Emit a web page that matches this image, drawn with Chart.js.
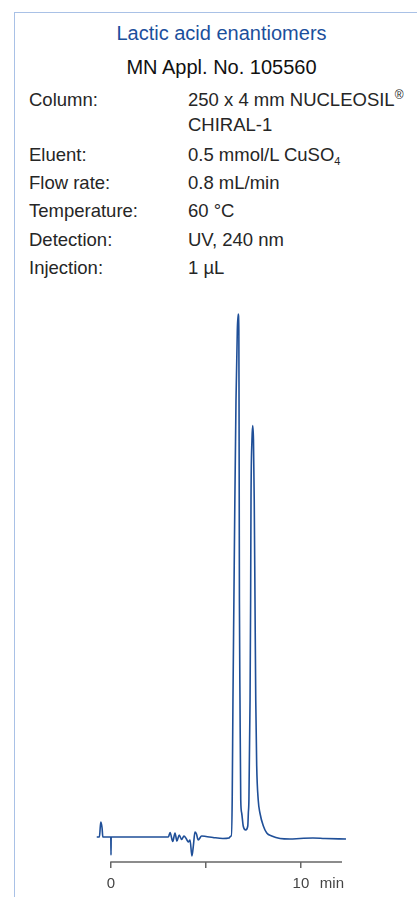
<!DOCTYPE html>
<html>
<head>
<meta charset="utf-8">
<script src="https://cdn.jsdelivr.net/npm/chart.js@4/dist/chart.umd.min.js"></script>
<style>
  html, body { margin: 0; padding: 0; background: #fff; }
  body { width: 417px; height: 897px; position: relative; overflow: hidden;
         font-family: "Liberation Sans", Arial, sans-serif; color: #262626; }
  .frame { position: absolute; left: 14px; top: 12px; width: 420px; height: 900px;
           border-left: 1.5px solid #a9c1e6; border-top: 1.5px solid #a9c1e6; }
  .t { position: absolute; white-space: nowrap; }
  .title { font-size: 20px; color: #1b4f9c; left: 0; width: 443px; text-align: center; }
  .appl  { font-size: 20px; color: #111; left: 0; width: 443px; text-align: center; }
  .lab, .val { font-size: 18.5px; line-height: 20px; }
  .lab { left: 29px; }
  .val { left: 188px; }
  sup { font-size: 12px; vertical-align: 7px; line-height: 0; }
  sub { font-size: 11px; vertical-align: -4px; line-height: 0; }
  #chart { position: absolute; left: 0; top: 290px; }
</style>
</head>
<body>
<div class="frame"></div>
<div class="t title" style="top:22px">Lactic acid enantiomers</div>
<div class="t appl" style="top:56px">MN Appl. No. 105560</div>

<div class="t lab" style="top:90px">Column:</div>
<div class="t val" style="top:90px">250 x 4 mm NUCLEOSIL<sup>®</sup></div>
<div class="t val" style="top:115px">CHIRAL-1</div>
<div class="t lab" style="top:145px">Eluent:</div>
<div class="t val" style="top:145px">0.5 mmol/L CuSO<sub>4</sub></div>
<div class="t lab" style="top:173px">Flow rate:</div>
<div class="t val" style="top:173px">0.8 mL/min</div>
<div class="t lab" style="top:201px">Temperature:</div>
<div class="t val" style="top:201px">60 °C</div>
<div class="t lab" style="top:230px">Detection:</div>
<div class="t val" style="top:230px">UV, 240 nm</div>
<div class="t lab" style="top:258px">Injection:</div>
<div class="t val" style="top:258px">1 µL</div>

<canvas id="chart" width="417" height="607"></canvas>

<script>
/* ─── DATA ─── retention time (min) and detector signal (arbitrary units) */
const TIME_MIN = [
  -0.75, -0.61, -0.56, -0.53, -0.47, -0.43, -0.01, 0.00, 0.01,
  3.02, 3.11, 3.25, 3.37, 3.47, 3.59, 3.72, 3.84, 3.97, 4.07, 4.16,
  4.26, 4.34, 4.42, 4.50, 4.59, 4.77, 5.00, 5.37, 5.89, 6.21, 6.32,
  6.35, 6.38, 6.42, 6.47, 6.52, 6.58, 6.65, 6.70, 6.73, 6.74, 6.75,
  6.76, 6.79, 6.83, 6.88, 6.96, 7.09,
  7.20, 7.23, 7.26, 7.32, 7.35, 7.37, 7.42, 7.46, 7.50, 7.54, 7.58,
  7.62, 7.67, 7.75, 7.84, 8.02, 8.20, 8.46, 8.90, 9.42, 9.95, 10.63,
  11.26, 12.37
];
const SIGNAL = [
  0, 0, 2.2, 3.0, 1.8, 0, 0, -3.6, 0,
  0, 0.9, -0.9, 0.8, -0.8, 0.4, -0.5, 0.2, -0.4, -1.0, -0.6,
  -3.8, -1.6, 1.0, 0.6, -0.6, 0.2, 0.1, -0.1, -0.3, -0.2, 0.2,
  0.2, 7.4, 27.4, 47.4, 67.4, 87.4, 101.4, 104.6, 101.4, 87.4, 67.4,
  47.4, 27.4, 7.4, 4.8, 2.2, 1.4,
  2.2, 4.8, 7.4, 27.4, 47.4, 67.4, 79.4, 82.3, 79.4, 67.4, 47.4,
  27.4, 14.2, 7.4, 4.8, 2.2, 0.8, 0.2, -0.3, -0.4, -0.3, -0.2,
  -0.3, -0.4
];

/* axis ticks; the last one only carries the unit label */
const TICK_VALUES = [0, 5, 10, 11.63];
const TICK_LABELS = ['0', '', '10', 'min'];
const AXIS_START = 0;

const X_MIN = -0.8, X_MAX = 12.16;
const Y_MIN = -5, Y_MAX = 107.4;

const points = TIME_MIN.map((t, i) => ({ x: t, y: SIGNAL[i] }));

/* time axis line starts at the injection (t = 0), not at the chart edge */
const timeAxisLine = {
  id: 'timeAxisLine',
  afterDraw(chart) {
    const { ctx, chartArea, scales } = chart;
    const x0 = scales.x.getPixelForValue(AXIS_START);
    ctx.save();
    ctx.strokeStyle = '#666';
    ctx.lineWidth = 1.5;
    ctx.beginPath();
    ctx.moveTo(x0 - 0.75, chartArea.bottom);
    ctx.lineTo(chartArea.right, chartArea.bottom);
    ctx.stroke();
    ctx.restore();
  },
};

new Chart(document.getElementById('chart'), {
  type: 'line',
  data: {
    datasets: [{
      data: points,
      borderColor: '#1f4f98',
      borderWidth: 1.6,
      pointRadius: 0,
      fill: false,
      cubicInterpolationMode: 'monotone',
      clip: false,
    }],
  },
  options: {
    responsive: false,
    devicePixelRatio: 1,
    animation: false,
    layout: { padding: { left: 95.8, right: 75, top: 10, bottom: 0 } },
    plugins: { legend: { display: false }, tooltip: { enabled: false } },
    scales: {
      x: {
        type: 'linear',
        min: X_MIN,
        max: X_MAX,
        afterBuildTicks: (scale) => { scale.ticks = TICK_VALUES.map((v) => ({ value: v })); },
        afterFit: (scale) => { scale.height = 35; },
        border: { display: false },
        grid: {
          drawOnChartArea: false,
          drawTicks: true,
          tickLength: 6,
          lineWidth: 1.5,
          color: (ctx) => (ctx.tick && ctx.tick.value === 11.63 ? 'rgba(0,0,0,0)' : '#666'),
        },
        ticks: {
          autoSkip: false,
          maxRotation: 0,
          padding: 7,
          color: '#444',
          font: { family: 'Liberation Sans', size: 15 },
          callback: (v, i) => TICK_LABELS[i],
        },
      },
      y: { display: false, min: Y_MIN, max: Y_MAX },
    },
  },
  plugins: [timeAxisLine],
});
</script>
</body>
</html>
